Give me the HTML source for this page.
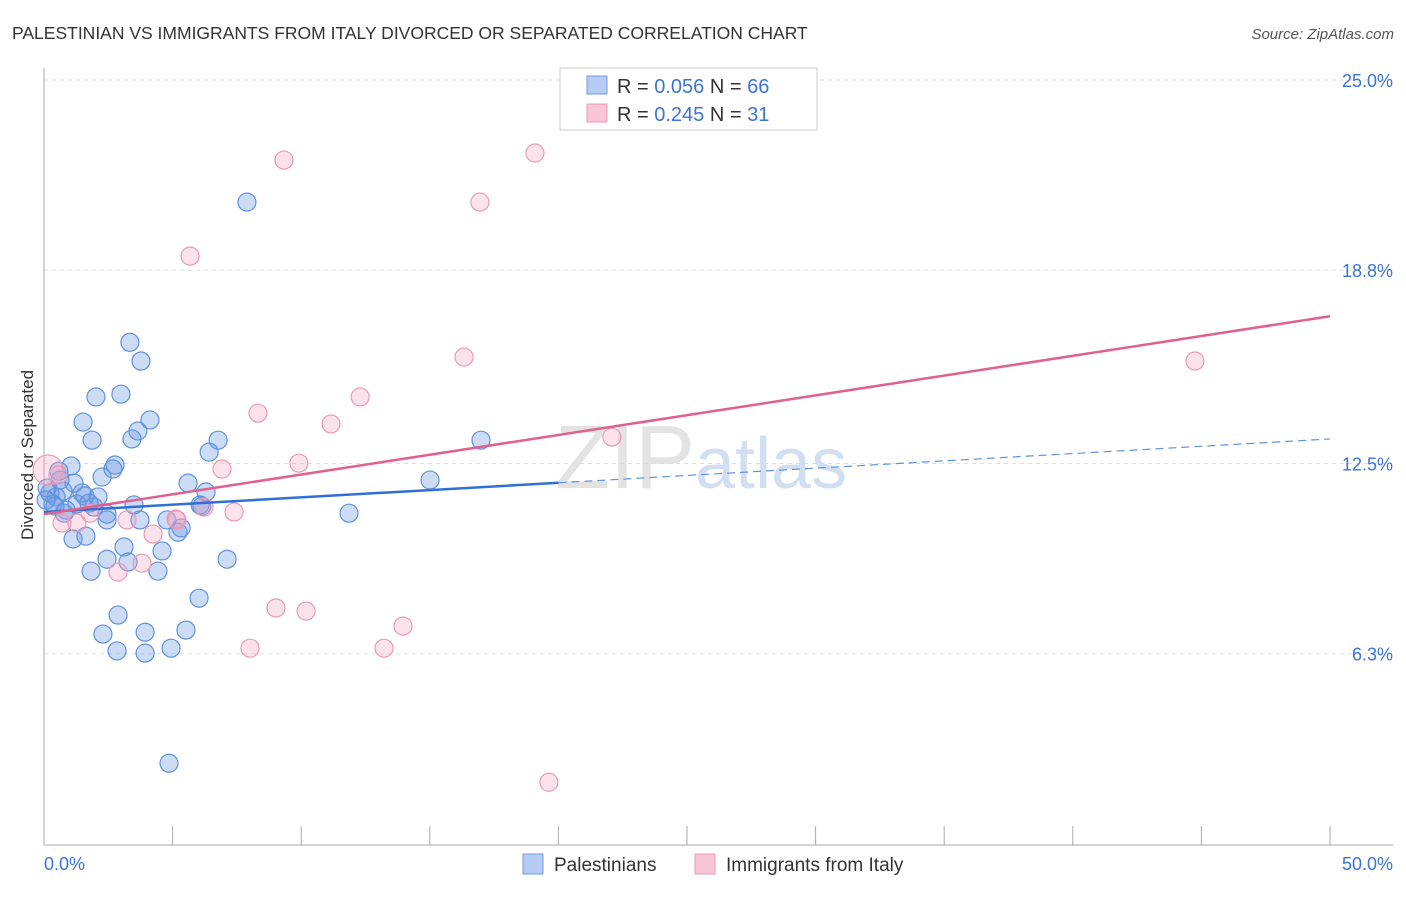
<!DOCTYPE html>
<html><head><meta charset="utf-8"><style>
body{margin:0;background:#fff;font-family:"Liberation Sans",sans-serif;}
svg text{font-family:"Liberation Sans",sans-serif;}
</style></head><body>
<svg id="chart" width="1406" height="892" xmlns="http://www.w3.org/2000/svg">
<text x="12" y="39" font-size="17.5" fill="#333">PALESTINIAN VS IMMIGRANTS FROM ITALY DIVORCED OR SEPARATED CORRELATION CHART</text>
<text x="1394" y="39" font-size="15" fill="#555" text-anchor="end" font-style="italic">Source: ZipAtlas.com</text>
<text x="555" y="488" font-size="90" fill="#ddd" font-family="Liberation Serif" opacity="0.8">ZIP<tspan fill="#c7d8ef" font-family="Liberation Sans" font-size="72">atlas</tspan></text>
<g id="grid"></g>
<g id="axes"></g>
<g id="marks"></g>
<text transform="translate(33,455) rotate(-90)" font-size="17" fill="#333" text-anchor="middle">Divorced or Separated</text>
<g>
<rect x="560" y="68" width="257" height="62" fill="#fff" stroke="#ccc"/>
<rect x="587" y="76" width="20" height="18" fill="#b5cdf3" stroke="#6e9be0"/>
<rect x="587" y="104" width="20" height="18" fill="#f8c6d6" stroke="#ec9ab6"/>
<text x="617" y="93" font-size="20" fill="#333">R = <tspan fill="#3b74d4">0.056</tspan>   N = <tspan fill="#3b74d4">66</tspan></text>
<text x="617" y="121" font-size="20" fill="#333">R = <tspan fill="#3b74d4">0.245</tspan>   N = <tspan fill="#3b74d4"> 31</tspan></text>
</g>
<g>
<rect x="523" y="854" width="20" height="20" fill="#b5cdf3" stroke="#6e9be0"/>
<text x="554" y="871" font-size="19" fill="#333">Palestinians</text>
<rect x="695" y="854" width="20" height="20" fill="#f8c6d6" stroke="#ec9ab6"/>
<text x="726" y="871" font-size="19" fill="#333">Immigrants from Italy</text>
</g>
</svg>
<script>
const yTicks=[25.0,18.8,12.5,6.3];
const yTickLabels=["25.0%","18.8%","12.5%","6.3%"];
const xTickLabels=["0.0%","50.0%"];
const blueX=[7.89,3.34,3.77,2.02,2.99,4.12,1.52,3.65,1.87,3.42,6.77,6.42,2.76,1.05,2.68,2.26,0.58,5.60,15.01,16.99,1.17,0.74,1.48,2.10,6.30,0.23,0.47,0.35,1.28,3.50,6.07,6.14,1.94,0.78,2.45,3.73,2.45,4.78,5.33,5.21,11.86,1.13,1.63,3.11,4.59,3.27,2.45,7.12,1.83,4.43,6.03,2.88,2.29,3.93,5.52,2.84,3.93,4.94,4.86,0.12,0.62,0.86,1.75,0.43,0.08,1.59];
const blueY=[21.02,16.45,15.84,14.67,14.76,13.92,13.85,13.56,13.26,13.30,13.26,12.87,12.45,12.42,12.32,12.06,12.25,11.86,11.96,13.26,11.86,11.60,11.54,11.41,11.57,11.54,11.41,11.18,11.18,11.15,11.15,11.11,11.08,10.88,10.85,10.66,10.66,10.66,10.40,10.26,10.88,10.04,10.13,9.78,9.65,9.29,9.38,9.38,8.99,8.99,8.11,7.56,6.94,7.00,7.07,6.39,6.32,6.48,2.73,11.70,11.96,10.98,11.21,11.11,11.31,11.44];
const pinkX=[9.33,19.09,16.95,5.68,16.33,44.75,12.29,8.32,11.16,22.08,9.91,6.92,0.16,7.39,6.22,5.17,4.24,3.23,5.13,0.70,1.28,1.79,3.81,2.88,9.02,10.19,13.96,8.01,13.22,19.63,0.54];
const pinkY=[22.39,22.62,21.02,19.26,15.97,15.84,14.67,14.14,13.79,13.36,12.51,12.32,12.29,10.92,11.08,10.66,10.20,10.66,10.69,10.56,10.56,10.88,9.25,8.96,7.79,7.69,7.20,6.48,6.48,2.11,12.12];
const blueTrend=[10.92,13.30];
const pinkTrend=[10.85,17.30];
const NS="http://www.w3.org/2000/svg";
const X0=44,X1=1330,Y0=847,Ytop=80;
function sx(v){return X0+(X1-X0)*v/50;}
function sy(v){return Y0-(Y0-Ytop)*v/25;}
function mk(tag,attrs,parent){const e=document.createElementNS(NS,tag);for(const k in attrs)e.setAttribute(k,attrs[k]);document.getElementById(parent).appendChild(e);return e;}
yTicks.forEach((t,i)=>{
 const g=mk('line',{x1:X0,x2:1393,y1:sy(t),y2:sy(t),stroke:'#ddd','stroke-dasharray':'4,4'},'grid');
 
 
 const l=mk('text',{x:1393,y:sy(t)+7,'font-size':18,fill:'#3b74d4','text-anchor':'end'},'axes');
 l.textContent=yTickLabels[i];
 
 
});
const ya=mk('line',{x1:X0,x2:X0,y1:68,y2:845,stroke:'#aaa'},'axes');


const xa=mk('line',{x1:X0,x2:1393,y1:845,y2:845,stroke:'#aaa'},'axes');


for(let i=0;i<=10;i++){
 const t=mk('line',{x1:sx(i*5),x2:sx(i*5),y1:826,y2:845,stroke:'#aaa'},'axes');
 
 
}
const xl0=mk('text',{x:44,y:870,'font-size':18,fill:'#3b74d4'},'axes');
xl0.textContent=xTickLabels[0];


const xl1=mk('text',{x:1393,y:870,'font-size':18,fill:'#3b74d4','text-anchor':'end'},'axes');
xl1.textContent=xTickLabels[1];


blueX.forEach((x,i)=>{
 const c=mk('circle',{cx:sx(x),cy:sy(blueY[i]),r:9,fill:'rgba(110,155,225,0.35)',stroke:'#5f92dd','stroke-width':1.2},'marks');
 
 
});
pinkX.forEach((x,i)=>{
 const big=(i===12);
 const c=mk('circle',{cx:sx(x),cy:sy(pinkY[i]),r:big?15:9,fill:'rgba(242,160,190,0.3)',stroke:'#eb9ab6','stroke-width':1.2},'marks');
 
 
});
const bmid=blueTrend[0]+(blueTrend[1]-blueTrend[0])*20/50;
const bl=mk('line',{x1:sx(0),y1:sy(blueTrend[0]),x2:sx(20),y2:sy(bmid),stroke:'#2f6fd6','stroke-width':2.5},'marks');


const bd=mk('line',{x1:sx(20),y1:sy(bmid),x2:sx(50),y2:sy(blueTrend[1]),stroke:'#5f92dd','stroke-width':1.2,'stroke-dasharray':'8,5'},'marks');


const pl=mk('line',{x1:sx(0),y1:sy(pinkTrend[0]),x2:sx(50),y2:sy(pinkTrend[1]),stroke:'#e0608e','stroke-width':2.5},'marks');


</script>
</body></html>
